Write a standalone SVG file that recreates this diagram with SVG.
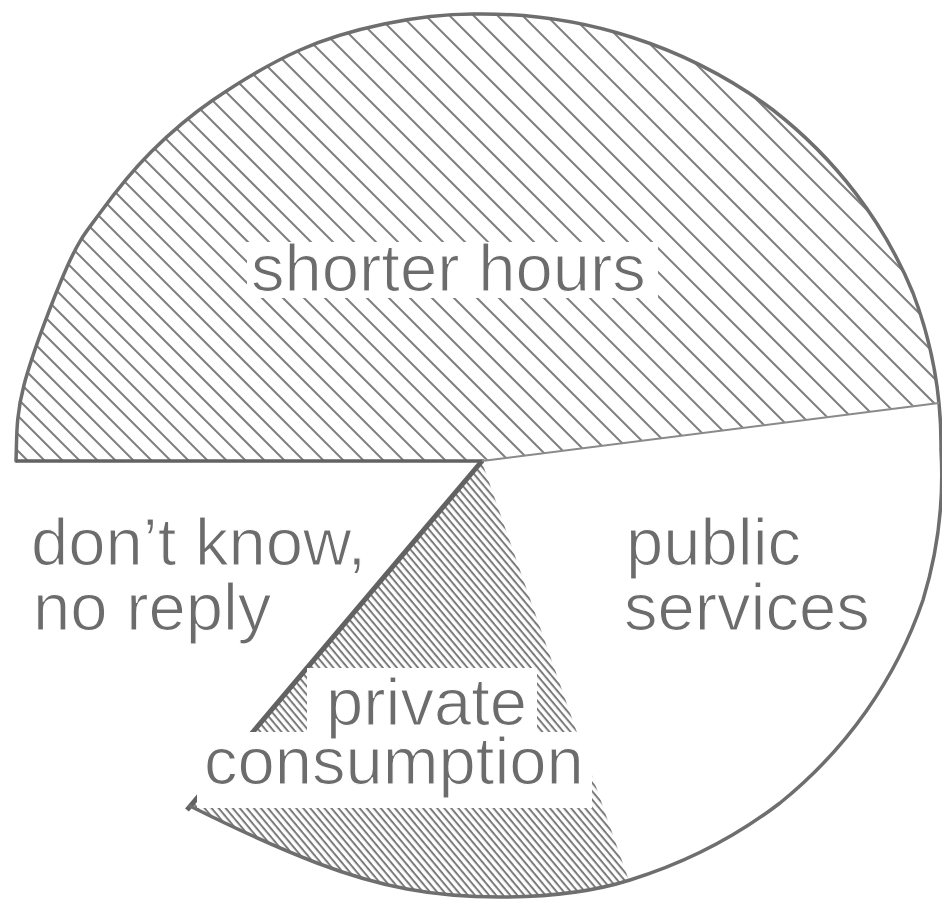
<svg xmlns="http://www.w3.org/2000/svg" width="942" height="906" viewBox="0 0 942 906">
<style>
.lbl{font-family:"Liberation Sans",Arial,sans-serif;font-size:67px;fill:#6c6c6c;stroke:#ffffff;stroke-width:1.2px}
.hatch{stroke:#7f7f7f;stroke-width:2;fill:none}
.outline{stroke:#6e6e6e;stroke-width:3.5;fill:none;stroke-linecap:round;stroke-linejoin:round}
.edge{stroke:#626262;fill:none;stroke-linecap:butt}
.box{fill:#ffffff}
</style>
<defs>
<clipPath id="pieClip"><path d="M16,461 C17,436.8 15.5,417.3 24,385 C32.5,352.7 54.3,295.7 67,267 C79.7,238.3 86,232.2 100,213 C114,193.8 132.2,170.8 151,152 C169.8,133.2 188.2,117 213,100 C237.8,83 271.5,62.7 300,50 C328.5,37.3 355.2,30 384,24 C412.8,18 443.2,14 473,14 A470 447 0 0 1 773,110 A470 447 0 0 1 913,293 A470 447 0 0 1 941,450 A470 447 0 0 1 923,600 A470 447 0 0 1 780,803 A470 447 0 0 1 630,880 C589,893 540,897 500,897 C470,897 437.5,894.7 407,889 C376.5,883.3 353.2,876.8 317,863 C280.8,849.2 224.5,823.2 190,806 L16,461 Z"/></clipPath>
<clipPath id="shortClip"><polygon points="0,461 482,461 950,401 950,0 0,0"/></clipPath>
<clipPath id="privClip"><polygon points="482,462 100,912 640,912"/></clipPath>
<pattern id="dense" width="12" height="5.4" patternUnits="userSpaceOnUse" patternTransform="rotate(50)"><rect width="12" height="2" fill="#7a7a7a"/></pattern>
</defs>
<rect width="942" height="906" fill="#ffffff"/>
<g clip-path="url(#pieClip)">
<g id="slice-shorter-hours" clip-path="url(#shortClip)">
<path class="hatch" d="M-450 0l470 470M-433 0l470 470M-416 0l470 470M-398 0l470 470M-381 0l470 470M-363 0l470 470M-345 0l470 470M-327 0l470 470M-309 0l470 470M-290 0l470 470M-272 0l470 470M-253 0l470 470M-234 0l470 470M-215 0l470 470M-196 0l470 470M-176 0l470 470M-157 0l470 470M-137 0l470 470M-117 0l470 470M-97 0l470 470M-77 0l470 470M-57 0l470 470M-36 0l470 470M-15 0l470 470M6 0l470 470M27 0l470 470M48 0l470 470M69 0l470 470M91 0l470 470M112 0l470 470M134 0l470 470M156 0l470 470M179 0l470 470M201 0l470 470M223 0l470 470M246 0l470 470M269 0l470 470M292 0l470 470M315 0l470 470M339 0l470 470M362 0l470 470M386 0l470 470M410 0l470 470M434 0l470 470M458 0l470 470M482 0l470 470M507 0l470 470M531 0l470 470M556 0l470 470M581 0l470 470M606 0l470 470M632 0l470 470M657 0l470 470M683 0l470 470M709 0l470 470"/>
</g>
<g id="slice-private-consumption" clip-path="url(#privClip)">
<rect x="0" y="400" width="942" height="506" fill="url(#dense)"/>
</g>
</g>
<g id="connectors">
<line class="edge" x1="482" y1="461" x2="187" y2="810" stroke-width="5"/>
</g>
<g id="label-boxes">
<rect class="box" x="247" y="242" width="411" height="56"/>
<rect class="box" x="307" y="668" width="230" height="64"/>
<rect class="box" x="197" y="732" width="395" height="76"/>
</g>
<g id="outline">
<path class="outline" d="M16,461 C17,436.8 15.5,417.3 24,385 C32.5,352.7 54.3,295.7 67,267 C79.7,238.3 86,232.2 100,213 C114,193.8 132.2,170.8 151,152 C169.8,133.2 188.2,117 213,100 C237.8,83 271.5,62.7 300,50 C328.5,37.3 355.2,30 384,24 C412.8,18 443.2,14 473,14 A470 447 0 0 1 773,110 A470 447 0 0 1 913,293 A470 447 0 0 1 941,450 A470 447 0 0 1 923,600 A470 447 0 0 1 780,803 A470 447 0 0 1 630,880 C589,893 540,897 500,897 C470,897 437.5,894.7 407,889 C376.5,883.3 353.2,876.8 317,863 C280.8,849.2 224.5,823.2 190,806"/>
<line class="edge" x1="16" y1="461" x2="484" y2="461" stroke-width="3.5"/>
<line x1="482" y1="461" x2="939" y2="403" stroke="#8a8a8a" stroke-width="2"/>
</g>
<g id="labels">
<text id="label-shorter-hours" class="lbl" x="251" y="291">shorter hours</text>
<text id="label-dont-know" class="lbl"><tspan x="31" y="565">don’t know,</tspan><tspan x="33" y="630">no reply</tspan></text>
<text id="label-public-services" class="lbl"><tspan x="626" y="565">public</tspan><tspan x="624" y="630">services</tspan></text>
<text id="label-private-consumption" class="lbl"><tspan x="326" y="725">private</tspan><tspan x="204" y="784">consumption</tspan></text>
</g>
</svg>
